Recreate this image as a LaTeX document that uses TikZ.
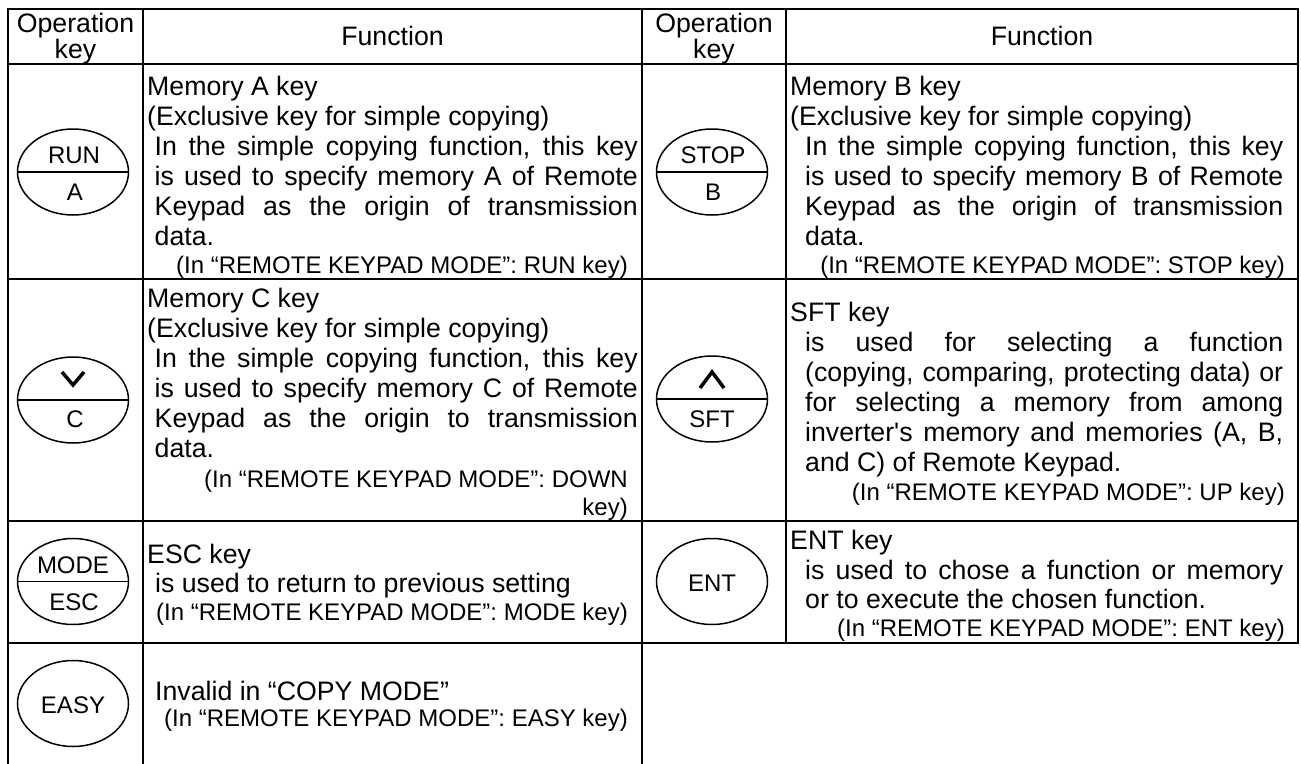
\documentclass[tikz,border=0pt]{standalone}
\usepackage{fontspec}
\setmainfont{Liberation Sans}
\usetikzlibrary{shapes.geometric}
\newcommand{\justline}[2]{\makebox[#1][s]{#2}}
\tikzset{
  tline/.style={line width=2pt, line cap=rect},
  keyshape/.style={draw, ellipse, line width=1.5pt, minimum width=111pt, minimum height=86pt, inner sep=0pt},
  keyline/.style={line width=1.5pt},
  chev/.style={line width=3.5pt, line join=miter},
  keylbl/.style={anchor=base, inner sep=0pt, font=\fontsize{24}{28}\selectfont},
  hdr/.style={anchor=base, inner sep=0pt, font=\fontsize{26.7}{30}\selectfont},
  bodytxt/.style={anchor=base west, inner sep=0pt, font=\fontsize{26.7}{30}\selectfont},
  smalltxt/.style={anchor=base east, inner sep=0pt, font=\fontsize{24}{28}\selectfont},
  smallw/.style={anchor=base west, inner sep=0pt, font=\fontsize{24}{28}\selectfont}
}
\begin{document}
\begin{tikzpicture}[x=1pt,y=-1pt]
\fill[white] (0,0) rectangle (1301,763);
\useasboundingbox (0,0) rectangle (1301,763);

% table rules
\draw[tline] (8,9) -- (1298,9);
\draw[tline] (8,64) -- (1298,64);
\draw[tline] (8,279) -- (1298,279);
\draw[tline] (8,521) -- (1298,521);
\draw[tline] (8,643) -- (1298,643);
\draw[tline] (8,9) -- (8,763);
\draw[tline] (143,9) -- (143,763);
\draw[tline] (642,9) -- (642,763);
\draw[tline] (786,9) -- (786,643);
\draw[tline] (1298,9) -- (1298,643);

% headers
\node[hdr] (h1a) at (75.5,32) {Operation};
\node[hdr] (h1b) at (75.5,58) {key};
\node[hdr] (h2) at (392.5,45) {Function};
\node[hdr] (h3a) at (714,32) {Operation};
\node[hdr] (h3b) at (714,58) {key};
\node[hdr] (h4) at (1042,45) {Function};

% keys
\node[keyshape] (kRUN) at (73,172) {};
\draw[keyline] (kRUN.west) -- (kRUN.east);
\node[keylbl] (lRUN) at (74,163) {RUN};
\node[keylbl] (lA) at (75,200) {A};

\node[keyshape] (kSTOP) at (712,172) {};
\draw[keyline] (kSTOP.west) -- (kSTOP.east);
\node[keylbl] (lSTOP) at (713,163) {STOP};
\node[keylbl] (lB) at (713,200) {B};

\node[keyshape] (kC) at (73,400) {};
\draw[keyline] (kC.west) -- (kC.east);
\draw[chev] (kC.center) ++(-11,-28) -- ++(11,13) -- ++(11,-13);
\node[keylbl] (lC) at (75,427) {C};

\node[keyshape] (kSFT) at (712,399) {};
\draw[keyline] (kSFT.west) -- (kSFT.east);
\draw[chev] (kSFT.center) ++(-12,-11) -- ++(12,-16) -- ++(12,16);
\node[keylbl] (lSFT) at (712,427) {SFT};

\node[keyshape] (kMODE) at (73,581.5) {};
\draw[keyline] (kMODE.west) -- (kMODE.east);
\node[keylbl] (lMODE) at (73,573) {MODE};
\node[keylbl] (lESC) at (74,610) {ESC};

\node[keyshape] (kENT) at (712,581.5) {};
\node[keylbl] (lENT) at (712,591) {ENT};

\node[keyshape] (kEASY) at (73,703.5) {};
\node[keylbl] (lEASY) at (73,713) {EASY};

% row 1 left
\node[bodytxt] (a1) at (147,95) {Memory A key};
\node[bodytxt] (a2) at (147,125) {(Exclusive key for simple copying)};
\node[bodytxt] (a3) at (154.5,155) {\justline{483pt}{In the simple copying function, this key}};
\node[bodytxt] (a4) at (154.5,185) {\justline{483pt}{is used to specify memory A of Remote}};
\node[bodytxt] (a5) at (154.5,215) {\justline{483pt}{Keypad as the origin of transmission}};
\node[bodytxt] (a6) at (154.5,245) {data.};
\node[smalltxt] (a7) at (628,273) {(In “REMOTE KEYPAD MODE”: RUN key)};

% row 1 right
\node[bodytxt] (b1) at (790,95) {Memory B key};
\node[bodytxt] (b2) at (790,125) {(Exclusive key for simple copying)};
\node[bodytxt] (b3) at (805,155) {\justline{478pt}{In the simple copying function, this key}};
\node[bodytxt] (b4) at (805,185) {\justline{478pt}{is used to specify memory B of Remote}};
\node[bodytxt] (b5) at (805,215) {\justline{478pt}{Keypad as the origin of transmission}};
\node[bodytxt] (b6) at (805,245) {data.};
\node[smalltxt] (b7) at (1285,273) {(In “REMOTE KEYPAD MODE”: STOP key)};

% row 2 left
\node[bodytxt] (c1) at (147,307) {Memory C key};
\node[bodytxt] (c2) at (147,337) {(Exclusive key for simple copying)};
\node[bodytxt] (c3) at (154.5,367) {\justline{483pt}{In the simple copying function, this key}};
\node[bodytxt] (c4) at (154.5,397) {\justline{483pt}{is used to specify memory C of Remote}};
\node[bodytxt] (c5) at (154.5,427) {\justline{483pt}{Keypad as the origin to transmission}};
\node[bodytxt] (c6) at (154.5,457) {data.};
\node[smalltxt] (c7) at (628,487) {(In “REMOTE KEYPAD MODE”: DOWN};
\node[smalltxt] (c8) at (628,515) {key)};

% row 2 right
\node[bodytxt] (d1) at (790,321) {SFT key};
\node[bodytxt] (d2) at (805,351) {\justline{478pt}{is used for selecting a function}};
\node[bodytxt] (d3) at (805,381) {\justline{478pt}{(copying, comparing, protecting data) or}};
\node[bodytxt] (d4) at (805,411) {\justline{478pt}{for selecting a memory from among}};
\node[bodytxt] (d5) at (805,441) {\justline{478pt}{inverter\textquotesingle s memory and memories (A, B,}};
\node[bodytxt] (d6) at (805,471) {and C) of Remote Keypad.};
\node[smalltxt] (d7) at (1285,500) {(In “REMOTE KEYPAD MODE”: UP key)};

% row 3 left
\node[bodytxt] (e1) at (147,563) {ESC key};
\node[bodytxt] (e2) at (155,592) {is used to return to previous setting};
\node[smalltxt] (e3) at (628,620) {(In “REMOTE KEYPAD MODE”: MODE key)};

% row 3 right
\node[bodytxt] (f1) at (790,549) {ENT key};
\node[bodytxt] (f2) at (805,579) {\justline{478pt}{is used to chose a function or memory}};
\node[bodytxt] (f3) at (805,608) {or to execute the chosen function.};
\node[smalltxt] (f4) at (1285,636) {(In “REMOTE KEYPAD MODE”: ENT key)};

% row 4 left
\node[bodytxt] (g1) at (155,700) {Invalid in “COPY MODE”};
\node[smalltxt] (g2) at (628,726) {(In “REMOTE KEYPAD MODE”: EASY key)};
\end{tikzpicture}
\end{document}
